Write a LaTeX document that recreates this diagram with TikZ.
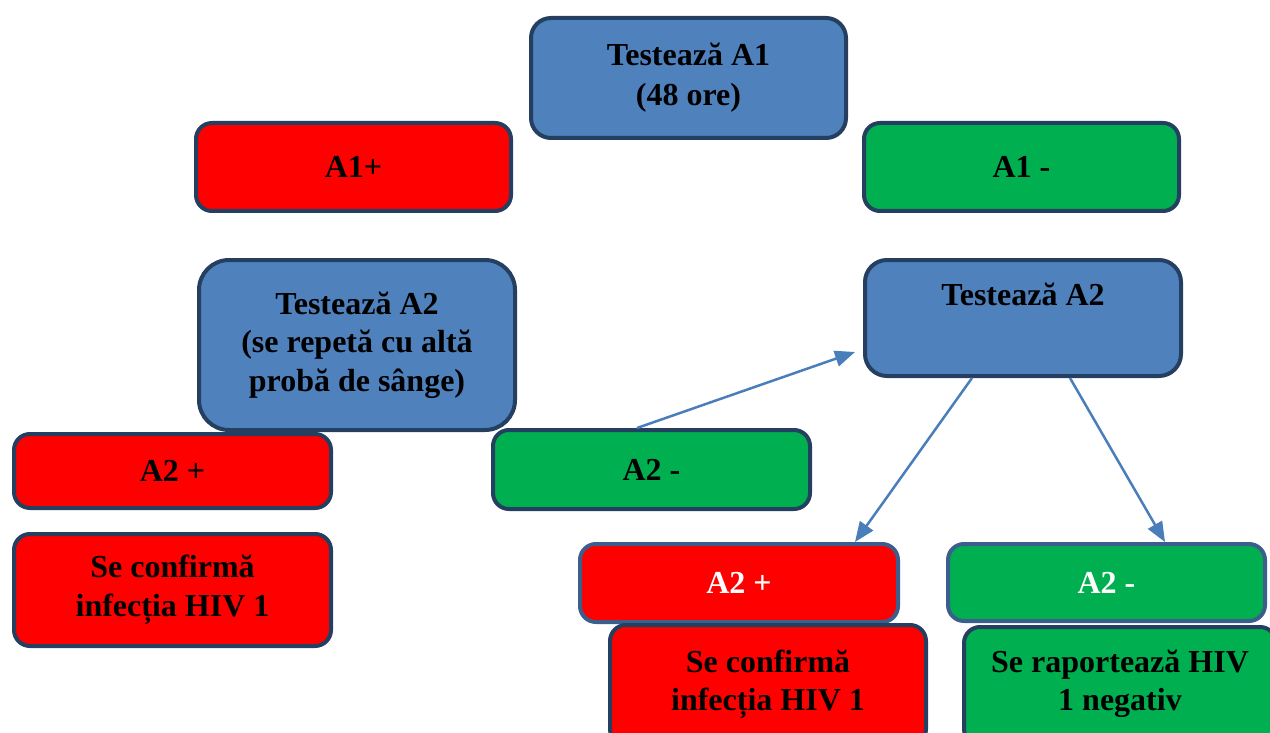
\documentclass[tikz,border=0pt]{standalone}
\usepackage{fontspec}
\setmainfont{Liberation Serif}
\usetikzlibrary{arrows.meta,calc}
\definecolor{boxblue}{HTML}{4F81BD}
\definecolor{boxred}{HTML}{FF0000}
\definecolor{boxgreen}{HTML}{00B050}
\definecolor{darkedge}{HTML}{253F61}
\definecolor{lightedge}{HTML}{3B5E8C}
\definecolor{arrowblue}{HTML}{4A7EBB}
\begin{document}
\begin{tikzpicture}[x=1pt,y=-1pt,
  box/.style={draw=darkedge, line width=4pt, rounded corners=16pt, inner sep=0pt,
    align=center, font=\fontsize{32}{38.5}\selectfont\bfseries},
  bluebox/.style={box, fill=boxblue},
  redbox/.style={box, fill=boxred},
  greenbox/.style={box, fill=boxgreen},
  lightbox/.style={draw=lightedge, text=white},
  lbl/.style={inner sep=0pt, align=center, font=\fontsize{32}{38}\selectfont\bfseries},
  flow/.style={draw=arrowblue, line width=2.5pt, -{Triangle[length=20pt,width=16pt]}}]
\useasboundingbox (0,0) rectangle (1270,733);
\clip (0,0) rectangle (1270,733);

\node[bluebox, rounded corners=20pt, minimum width=315pt, minimum height=120pt,
  font=\fontsize{32}{40}\selectfont\bfseries] (tA1) at (688.5,78) {Testează A1\\(48 ore)};
\node[redbox, minimum width=315pt, minimum height=88pt] (A1p) at (353.5,167) {A1+};
\node[greenbox, minimum width=315pt, minimum height=88pt] (A1m) at (1021.5,167) {A1 -};

\node[bluebox, rounded corners=30pt, minimum width=316pt, minimum height=170pt] (tA2l) at (357,345) {Testează A2\\(se repetă cu altă\\probă de sânge)};
\node[bluebox, rounded corners=22pt, minimum width=316pt, minimum height=116pt] (tA2r) at (1023,318) {};
\node[lbl, anchor=base] (tA2rt) at (1023,305) {Testează A2};

\node[redbox, minimum width=317pt, minimum height=74pt] (A2pl) at (172.5,471) {A2 +};
\node[greenbox, minimum width=317pt, minimum height=79pt] (A2mm) at (651.5,469.5) {A2 -};
\node[redbox, minimum width=317pt, minimum height=112pt] (conf1) at (172.5,590) {Se confirmă\\infecția HIV 1};

\node[redbox, lightbox, minimum width=318pt, minimum height=78pt] (A2pr) at (739,583) {A2 +};
\node[greenbox, lightbox, minimum width=317pt, minimum height=77pt] (A2mr) at (1106.5,582.5) {A2 -};
\node[redbox, minimum width=316pt, minimum height=120pt] (conf2) at (768,685) {};
\node[lbl, anchor=base] (conf2t) at (768,710) {Se confirmă\\infecția HIV 1};
\node[greenbox, minimum width=312pt, minimum height=118pt] (neg) at (1120,686) {};
\node[lbl, anchor=base] (negt) at (1120,710) {Se raportează HIV\\1 negativ};

\coordinate (s1) at ($(A2mm.north)+(-14.5,0)$);
\coordinate (e1) at ($(tA2r.west)+(-8,34)$);
\coordinate (s2) at ($(tA2r.south)+(-51,0)$);
\coordinate (e2) at ($(A2pr.north)+(116,0)$);
\coordinate (s3) at ($(tA2r.south)+(47,0)$);
\coordinate (e3) at ($(A2mr.north)+(58.5,0)$);
\draw[flow] (s1) -- (e1);
\draw[flow] (s2) -- (e2);
\draw[flow] (s3) -- (e3);
\end{tikzpicture}
\end{document}
